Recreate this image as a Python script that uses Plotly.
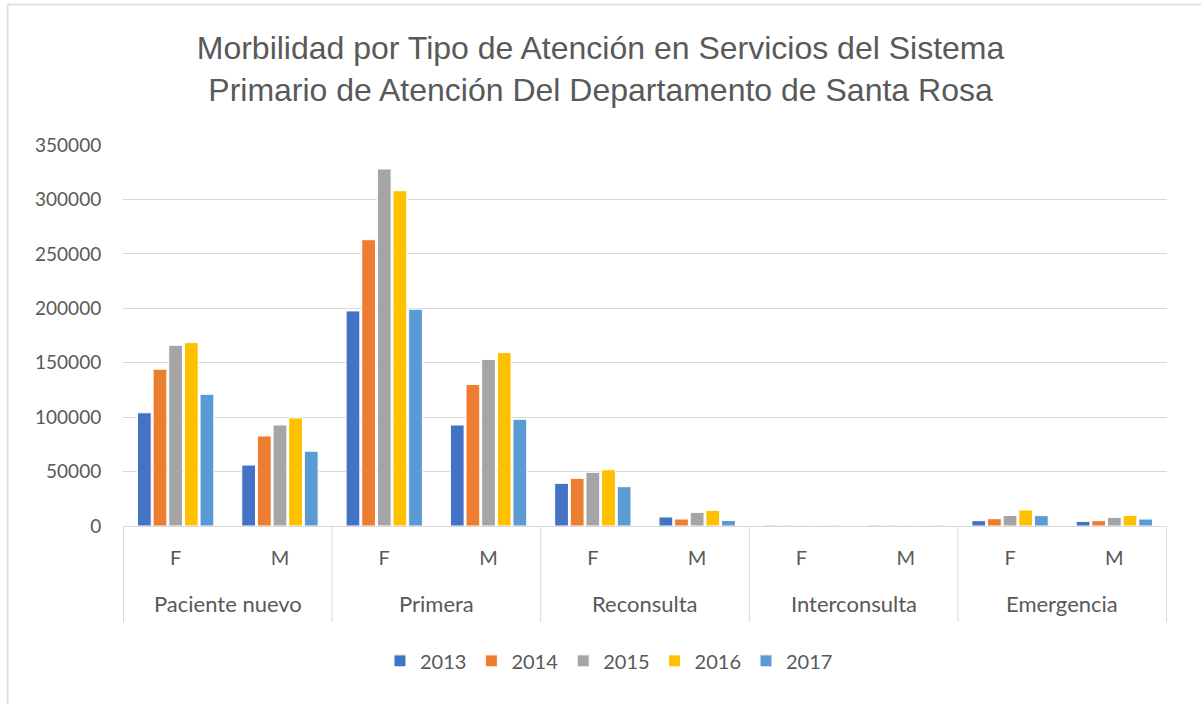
import plotly.graph_objects as go

groups = ["Paciente nuevo", "Primera", "Reconsulta", "Interconsulta", "Emergencia"]
sexes = ["F", "M"]
years = ["2013", "2014", "2015", "2016", "2017"]
colors = ["#4472C4", "#ED7D31", "#A5A5A5", "#FFC000", "#5B9BD5"]

# values per year, order: PN-F, PN-M, Pr-F, Pr-M, Re-F, Re-M, In-F, In-M, Em-F, Em-M
v2013 = [104000, 56000, 197600, 92800, 39200, 8300, 800, 800, 4900, 4200]
v2014 = [144000, 82700, 263000, 130000, 43800, 6400, 800, 800, 6700, 4900]
v2015 = [166000, 92800, 328000, 153000, 49300, 12500, 800, 800, 9700, 7900]
v2016 = [168500, 99300, 308000, 159400, 51700, 14300, 800, 800, 14700, 9700]
v2017 = [121000, 68700, 199200, 98100, 36100, 5100, 800, 800, 9500, 6400]
series = [v2013, v2014, v2015, v2016, v2017]

cats = [g + "|" + s for g in groups for s in sexes]
sub_labels = [s for g in groups for s in sexes]

fig = go.Figure()
for yr, vals, c in zip(years, series, colors):
    fig.add_trace(go.Bar(x=cats, y=vals, name=yr,
                         marker=dict(color=c, line=dict(color="white", width=1))))

font = "Lato, sans-serif"
grey = "#595959"
line_c = "#d9d9d9"

annotations = []
for i, g in enumerate(groups):
    annotations.append(dict(text=g, x=2 * i + 0.5, xref="x", y=-0.2047, yref="paper",
                            xanchor="center", yanchor="middle", showarrow=False,
                            font=dict(family=font, size=22, color=grey)))

shapes = []
for i in range(len(groups) + 1):
    shapes.append(dict(type="line", xref="x", yref="paper", x0=2 * i - 0.5, x1=2 * i - 0.5,
                       y0=0, y1=-0.252, line=dict(color=line_c, width=1)))
# outer frame (top and left edges)
shapes.append(dict(type="line", xref="paper", yref="paper", x0=-0.1106, x1=1.04, y0=1.3688, y1=1.3688,
                   line=dict(color="#e3e3e3", width=2)))
shapes.append(dict(type="line", xref="paper", yref="paper", x0=-0.1106, x1=-0.1106, y0=1.3688, y1=-0.48,
                   line=dict(color="#e3e3e3", width=2)))

fig.update_layout(
    width=1201, height=704,
    paper_bgcolor="white", plot_bgcolor="white",
    barmode="group", bargap=0.25, bargroupgap=0.12,
    margin=dict(l=123, r=34, t=145, b=178, autoexpand=False),
    title=dict(text="Morbilidad por Tipo de Atención en Servicios del Sistema<br>Primario de Atención Del Departamento de Santa Rosa",
               x=0.5, xanchor="center", y=0.916, yanchor="middle",
               font=dict(family="Liberation Sans, Arial, sans-serif", size=32, color=grey)),
    font=dict(family=font, size=20, color=grey),
    legend=dict(orientation="h", x=0.4655, xanchor="center", y=-0.354, yanchor="middle",
                font=dict(family=font, size=20, color=grey), tracegroupgap=0),
    xaxis=dict(type="category", tickmode="array", tickvals=cats, ticktext=sub_labels,
               showline=True, linecolor=line_c, linewidth=1,
               ticks="outside", ticklen=14, tickcolor="rgba(0,0,0,0)",
               tickfont=dict(family=font, size=20, color=grey), showgrid=False),
    yaxis=dict(range=[0, 350000], dtick=50000, showgrid=True, gridcolor=line_c, gridwidth=1,
               zeroline=False, tickfont=dict(family=font, size=19, color=grey), tickformat="d",
               ticks="outside", ticklen=17, tickcolor="rgba(0,0,0,0)"),
    annotations=annotations,
    shapes=shapes,
)

fig.write_html("out.html", config={"displayModeBar": False},
               post_script="document.body.style.margin='0px';")
